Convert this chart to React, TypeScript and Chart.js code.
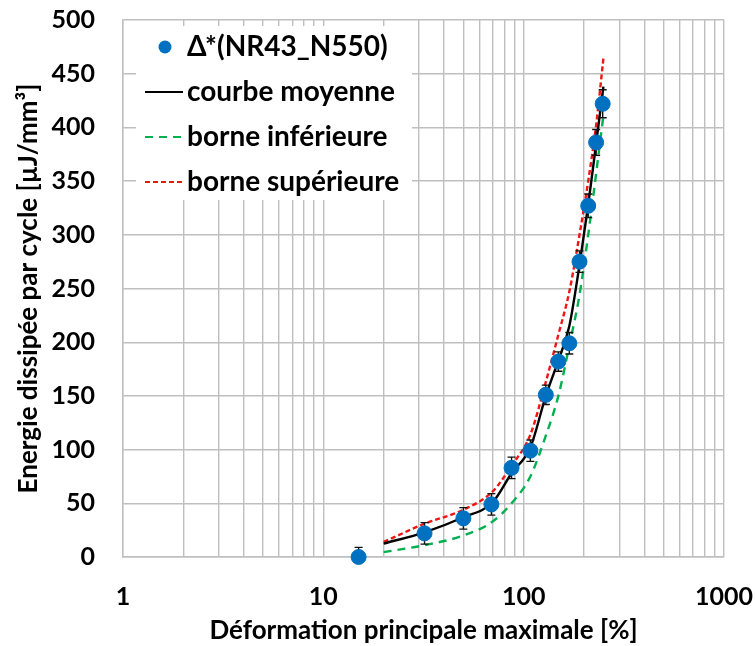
import React, { useEffect, useRef } from 'react';
import { Chart, registerables } from 'chart.js';

Chart.register(...registerables);

// Measured points: strain [%] vs dissipated energy per cycle [µJ/mm³]
const STRAIN = [15, 32, 50, 69, 87, 108, 129, 149, 169, 190, 210, 230, 248];
const ENERGY = [0, 22, 36, 49, 83, 99, 151, 182, 199, 275, 327, 386, 422];
const ENERGY_ERR = [9, 10, 10, 10, 10, 10, 9, 9, 10, 10, 11, 12, 13];

// Fitted curves
const CURVE_X = [20, 32, 50, 70, 87, 108, 129, 149, 169, 190, 210, 230, 250];
const MEAN = [12.5, 23, 37, 51, 78, 102, 150, 183, 215, 272, 328, 385, 438];
const LOWER = [4.5, 11, 20, 33, 50, 75, 113, 150, 197, 244, 300, 357, 411];
const UPPER = [14, 31, 44, 61, 85, 114, 163, 207, 247, 300, 350, 402, 464];

// Axis ticks
const X_GRID = [1, 2, 3, 4, 5, 6, 7, 8, 9, 10, 20, 30, 40, 50, 60, 70, 80, 90, 100, 200, 300, 400, 500, 600, 700, 800, 900, 1000];
const X_LABELS = [1, 10, 100, 1000];

const SERIES_LABELS = ['Δ*(NR43_N550)', 'courbe moyenne', 'borne inférieure', 'borne supérieure'];

const FONT = 'Lato, "Open Sans", sans-serif';
const BLUE = '#0070c0';
const GREEN = '#00b050';
const RED = '#f01414';
const GRID = '#bfbfbf';

const zeroPadding = (scale: any) => {
  scale.paddingTop = 0;
  scale.paddingBottom = 0;
  scale.paddingLeft = 0;
  scale.paddingRight = 0;
};

const errorBarPlugin = {
  id: 'errorBars',
  beforeDatasetDraw(chart: any, args: any) {
    if (args.index !== 0) return;
    const { ctx, chartArea, scales } = chart;
    const xs = scales.x;
    const ys = scales.y;
    ctx.save();
    ctx.beginPath();
    ctx.rect(chartArea.left, chartArea.top, chartArea.right - chartArea.left, chartArea.bottom - chartArea.top);
    ctx.clip();
    ctx.strokeStyle = '#111';
    ctx.lineWidth = 1.4;
    STRAIN.forEach((sx, i) => {
      const px = xs.getPixelForValue(sx);
      const top = ys.getPixelForValue(ENERGY[i] + ENERGY_ERR[i]);
      const bot = ys.getPixelForValue(ENERGY[i] - ENERGY_ERR[i]);
      ctx.beginPath();
      ctx.moveTo(px, top);
      ctx.lineTo(px, bot);
      ctx.moveTo(px - 4, top);
      ctx.lineTo(px + 4, top);
      ctx.moveTo(px - 4, bot);
      ctx.lineTo(px + 4, bot);
      ctx.stroke();
    });
    ctx.restore();
  },
};

const legendPlugin = {
  id: 'customLegend',
  afterDraw(chart: any) {
    const { ctx, chartArea } = chart;
    const x0 = chartArea.left + 13;
    const y0 = chartArea.top + 6;
    ctx.save();
    ctx.fillStyle = '#ffffff';
    ctx.fillRect(x0, y0, 276, 174);
    const rowY = [y0 + 21, y0 + 66, y0 + 111, y0 + 156];
    const lx1 = x0 + 9;
    const lx2 = x0 + 47;
    const tx = x0 + 51;
    ctx.fillStyle = BLUE;
    ctx.beginPath();
    ctx.arc(x0 + 29, rowY[0], 6.5, 0, Math.PI * 2);
    ctx.fill();
    const lines = [
      { color: '#000', dash: [] as number[], y: rowY[1] },
      { color: GREEN, dash: [8, 6], y: rowY[2] },
      { color: RED, dash: [5, 3], y: rowY[3] },
    ];
    lines.forEach((l) => {
      ctx.strokeStyle = l.color;
      ctx.lineWidth = 2.2;
      ctx.setLineDash(l.dash);
      ctx.beginPath();
      ctx.moveTo(lx1, l.y);
      ctx.lineTo(lx2, l.y);
      ctx.stroke();
    });
    ctx.setLineDash([]);
    ctx.fillStyle = '#000';
    ctx.font = `bold 28px ${FONT}`;
    ctx.textBaseline = 'middle';
    ctx.textAlign = 'left';
    SERIES_LABELS.forEach((t, i) => {
      ctx.fillText(t, tx, rowY[i]);
    });
    ctx.restore();
  },
};

export default function App() {
  const ref = useRef<HTMLCanvasElement | null>(null);

  useEffect(() => {
    if (!ref.current) return;
    const chart = new Chart(ref.current, {
      type: 'scatter',
      data: {
        datasets: [
          {
            label: SERIES_LABELS[0],
            data: STRAIN.map((x, i) => ({ x, y: ENERGY[i] })),
            backgroundColor: BLUE,
            borderColor: BLUE,
            pointRadius: 7.5,
            pointHoverRadius: 7.5,
            showLine: false,
            clip: false as any,
          },
          {
            label: SERIES_LABELS[1],
            data: CURVE_X.map((x, i) => ({ x, y: MEAN[i] })),
            borderColor: '#000',
            borderWidth: 2.4,
            pointRadius: 0,
            showLine: true,
            cubicInterpolationMode: 'monotone',
          },
          {
            label: SERIES_LABELS[2],
            data: CURVE_X.map((x, i) => ({ x, y: LOWER[i] })),
            borderColor: GREEN,
            borderWidth: 2.4,
            borderDash: [8, 6],
            pointRadius: 0,
            showLine: true,
            cubicInterpolationMode: 'monotone',
          },
          {
            label: SERIES_LABELS[3],
            data: CURVE_X.map((x, i) => ({ x, y: UPPER[i] })),
            borderColor: RED,
            borderWidth: 2.4,
            borderDash: [5, 3],
            pointRadius: 0,
            showLine: true,
            cubicInterpolationMode: 'monotone',
          },
        ],
      },
      options: {
        responsive: false,
        animation: false,
        events: [],
        layout: { padding: { top: 20, right: 31, bottom: 0, left: 0 } },
        plugins: {
          legend: { display: false },
          tooltip: { enabled: false },
        },
        scales: {
          x: {
            type: 'logarithmic',
            min: 1,
            max: 1000,
            afterBuildTicks: (scale: any) => {
              scale.ticks = X_GRID.map((v) => ({ value: v }));
            },
            afterFit: (scale: any) => {
              scale.height = 89;
              zeroPadding(scale);
            },
            ticks: {
              autoSkip: false,
              maxRotation: 0,
              padding: 25,
              color: '#000',
              font: { family: FONT, size: 25, weight: 'bold' },
              callback: (v: any) => (X_LABELS.includes(Number(v)) ? String(v) : ''),
            },
            grid: { color: GRID, lineWidth: 1.4, drawTicks: false },
            border: { color: GRID, width: 1.4 },
            title: {
              display: true,
              text: 'Déformation principale maximale [%]',
              color: '#000',
              font: { family: FONT, size: 26, weight: 'bold' },
              padding: { top: 0, bottom: 0 },
            },
          },
          y: {
            min: 0,
            max: 500,
            afterFit: (scale: any) => {
              scale.width = 123;
              zeroPadding(scale);
            },
            ticks: {
              stepSize: 50,
              padding: 28,
              color: '#000',
              font: { family: FONT, size: 25, weight: 'bold' },
            },
            grid: { color: GRID, lineWidth: 1.4, drawTicks: false },
            border: { color: GRID, width: 1.4 },
            title: {
              display: true,
              text: 'Energie dissipée par cycle [µJ/mm³]',
              color: '#000',
              font: { family: FONT, size: 26, weight: 'bold' },
              padding: { top: 13, bottom: 0 },
            },
          },
        },
      },
      plugins: [errorBarPlugin, legendPlugin],
    } as any);
    return () => chart.destroy();
  }, []);

  return (
    <div style={{ position: 'fixed', left: 0, top: 0, width: 755, height: 646, background: '#fff' }}>
      <canvas ref={ref} width={755} height={646} style={{ display: 'block' }} />
    </div>
  );
}
